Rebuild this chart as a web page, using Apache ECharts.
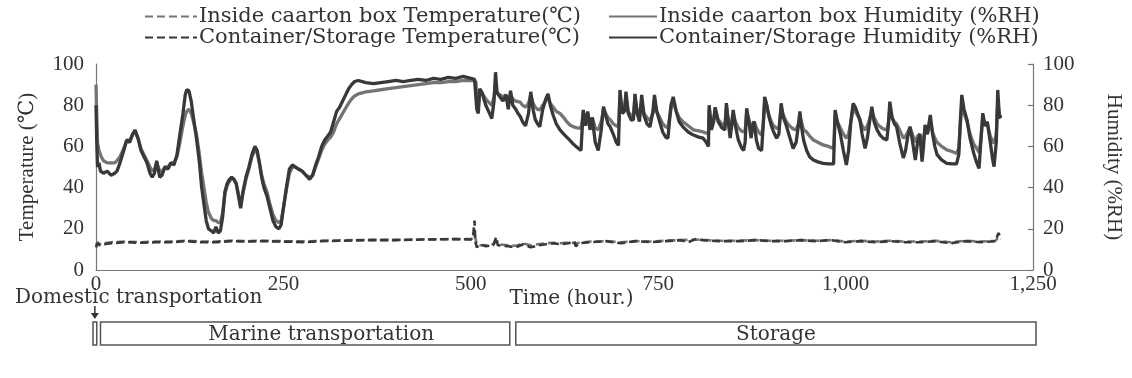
<!DOCTYPE html>
<html>
<head>
<meta charset="utf-8">
<script src="https://cdn.jsdelivr.net/npm/echarts@6/dist/echarts.min.js"></script>
<style>html,body{margin:0;padding:0;background:#fff}#c{width:1132px;height:378px}</style>
</head>
<body>
<div id="c"></div>
<script>
// ---- data ----
const seriesNames = [
  'Inside caarton box Temperature(\u2103)',
  'Container/Storage Temperature(\u2103)',
  'Inside caarton box Humidity (%RH)',
  'Container/Storage Humidity (%RH)'
];
const xTicks = [0, 250, 500, 750, 1000, 1250];
const yTicks = [0, 20, 40, 60, 80, 100];

const insideTemp = [[0,12],[2,13.5],[5,12.5],[10,13],[20,13.5],[40,13.8],[60,13.5],[80,13.8],[100,13.8],[120,14.2],[140,13.8],[160,13.8],[180,14.2],[200,14],[220,14.2],[250,14],[280,13.8],[300,14.2],[330,14.4],[360,14.6],[400,14.6],[440,14.9],[480,15],[500,15],[503,15.5],[505,17],[507,14],[510,12],[520,12],[530,12.5],[534,14],[537,12.5],[550,12],[560,11.8],[570,12.8],[580,12],[590,12.5],[600,13],[610,13.2],[620,13],[630,13.4],[640,13],[660,13.8],[680,14],[700,13.5],[720,14],[740,13.8],[760,14.2],[780,14.5],[800,14.8],[810,14.6],[830,14.2],[850,14.2],[880,14.5],[900,14.2],[920,14.2],[940,14.5],[960,14.2],[980,14.5],[1000,13.8],[1020,14.2],[1040,13.8],[1060,14.2],[1080,13.8],[1100,13.8],[1120,14.2],[1140,13.5],[1160,14.2],[1180,13.8],[1200,14.2],[1204,16],[1207,15]];

const containerTemp = [[0,11],[2,13],[5,12],[10,12.5],[20,13],[40,13.5],[60,13.2],[80,13.5],[100,13.5],[120,14],[140,13.5],[160,13.5],[180,14],[200,13.8],[220,14],[250,13.8],[280,13.5],[300,14],[330,14.2],[360,14.5],[400,14.5],[440,14.8],[480,15],[500,14.8],[503,16],[505,24],[506,14],[508,11],[512,12.5],[520,11.5],[530,12],[534,16],[536,12],[550,11.5],[560,11],[570,12.5],[580,11],[590,12],[600,12.5],[610,13],[620,12.5],[630,13],[638,14],[640,11.5],[645,13],[660,13.5],[680,14],[700,13],[720,14],[740,13.5],[760,14],[780,14.5],[790,13.5],[800,15],[810,14.5],[830,14],[850,14],[860,14],[880,14.5],[900,14],[920,14],[940,14.5],[960,14],[980,14.5],[1000,13.5],[1020,14],[1040,13.5],[1060,14],[1080,13.5],[1100,13.5],[1120,14],[1140,13],[1160,14],[1180,13.5],[1200,14],[1204,18],[1207,15]];

const insideHum = [[0,90],[1,75],[2,62],[4,58],[7,55],[10,53],[15,52],[20,52],[25,52],[28,53],[32,55],[37,59],[41,63],[45,63],[49,66],[52,67],[56,64],[60,59],[64,56],[68,53],[72,50],[75,48],[78,49],[81,52],[83,50],[85,48],[88,48],[92,50],[96,50],[100,52],[104,52],[108,55],[112,62],[116,70],[119,75],[121,77],[124,78],[127,76],[130,72],[134,66],[138,56],[141,47],[144,40],[147,33],[150,28],[154,25],[157,24],[160,24],[163,23],[166,23],[169,28],[172,37],[175,41],[178,43],[181,44.5],[184,44],[187,42],[190,37],[193,32],[196,37],[200,44],[204,49],[208,55],[212,58],[215,57],[218,52],[221,46],[224,42],[228,38],[232,32],[236,27],[240,24],[244,23],[247,24],[250,30],[254,39],[258,47],[262,50],[266,50],[270,49],[275,48],[280,46],[285,45],[289,46],[293,50],[297,54],[301,58],[305,61],[309,63],[313,64.5],[317,67],[321,71],[325,73.5],[329,76],[333,78.5],[337,81],[341,83],[345,84.5],[350,85.5],[360,86.5],[370,87],[380,87.5],[390,88],[400,88.5],[410,89],[420,89.5],[430,90],[440,90.5],[450,91],[460,91],[470,91.5],[480,91.5],[490,92],[500,92],[505,92],
[507,91],[508,82],[510,80],[512,87],[515,86],[520,83],[525,81],[528,80],[531,84],[533,90],[535,86],[539,85],[543,84],[547,85],[550,82],[553,85],[556,83],[560,82],[563,81.7],[566,81.5],[569,80],[573,79],[577,81],[580,85],[583,81],[586,79],[589,78],[592,77.7],[596,80],[600,82],[603,84],[606,81],[610,79],[614,77],[619,76],[624,74],[628,72],[632,70.4],[637,69.5],[642,69],[647,68.8],[649,68.5],[650,76],[653,72],[656,76],[659,71],[662,74],[666,69],[670,68],[672,68],[674,72],[677,78],[680,76],[683,74],[686,73],[690,71],[694,70],[697,69.5],[699,84],[702,77],[705,78],[707,84],[710,77],[714,75],[717,75],[719,83],[722,77],[725,75],[728,82],[731,76],[735,74],[739,72.5],[743,76],[745,82],[748,77],[752,74],[756,71],[760,69.5],[763,69],[767,78],[770,82],[774,77],[778,74],[783,72],[790,70],[797,68],[804,67.5],[810,67],[814,66.5],[817,66],[818,78],[821,71],[824,73],[826,78],[830,73],[835,71],[839,70],[841,79],[844,72],[846,69],[848,72],[850,76],[853,72],[857,69],[861,67.5],[864,67],[866,68],[868,76],[871,73],[874,69],[876,71],[878,72],[881,69],[884,67],[888,65.5],[890,70],[892,80],[895,78],[898,75],[901,72],[904,70],[908,68.8],[911,69],[914,78],[917,75],[921,72],[925,70],[930,68.5],[934,68],[937,71],[939,75],[941,72],[944,68],[948,67],[952,65],[957,63.1],[963,62],[970,60.7],[977,60],[984,59],[985,65],[986,75],[989,72],[993,69],[997,66],[1001,64],[1004,66],[1007,72],[1010,78],[1013,77],[1016,75],[1019,73],[1022,70],[1026,68],[1029,70],[1032,73],[1035,77],[1038,74],[1042,71],[1046,69.6],[1050,68.5],[1055,68],[1057,71],[1059,78],[1062,74],[1065,72],[1068,71],[1072,68],[1077,64],[1080,65],[1083,67],[1086,69],[1089,66],[1093,62],[1096,65],[1099,66],[1102,61],[1104,64],[1106,68],[1109,66],[1113,72],[1116,67],[1119,64],[1122,62],[1128,60],[1135,58.3],[1142,57.5],[1148,56.6],[1151,59],[1153,70],[1155,80],[1158,76],[1162,72],[1166,66],[1171,61],[1175,59],[1178,57],[1180,62],[1183,74],[1186,70],[1189,71],[1193,65],[1196,62.5],[1198,61.5],[1201,66],[1203,82],[1205,76],[1207,74]];

const containerHum = [[0,80],[1,62],[2,50],[4,52],[6,48],[10,47],[15,48],[20,46],[25,47],[28,48],[32,52],[37,58],[41,63],[45,62],[49,66],[52,68],[56,64],[60,58],[64,55],[68,52],[72,47],[75,45],[78,47],[81,53],[83,49],[85,45],[88,46],[92,50],[96,49],[100,52],[104,51],[108,56],[112,66],[116,76],[119,85],[121,87.5],[124,87],[127,82],[130,74],[134,64],[138,52],[141,40],[144,32],[147,24],[150,20],[154,19],[157,18],[160,21],[163,18],[166,19],[169,26],[172,38],[175,42],[178,44],[181,45],[184,44],[187,42],[190,36],[193,30],[196,38],[200,45],[204,50],[208,56],[212,60],[215,58],[218,52],[221,45],[224,40],[228,36],[232,30],[236,24],[240,21],[244,20],[247,22],[250,30],[254,40],[258,49],[262,51],[266,50],[270,49],[275,48],[280,46],[285,44],[289,46],[293,51],[297,55],[301,60],[305,63],[309,65],[313,67],[317,72],[321,77],[325,79],[329,82],[333,85],[337,88],[341,90],[345,91.5],[350,92],[360,91],[370,90.5],[380,91],[390,91.5],[400,92],[410,91.5],[420,92],[430,92.5],[440,92],[450,93],[460,92.5],[470,93.5],[480,93],[490,94],[500,93],[505,92.5],
[507,92],[508,78],[510,76],[512,88],[515,86],[520,80],[525,76],[528,73.5],[531,82],[533,96],[535,86],[539,84],[543,82],[547,85],[550,78],[553,87],[556,80],[560,78],[563,76],[566,74.5],[569,72],[573,70],[577,76],[580,86.5],[583,78],[586,73],[589,71],[592,69.5],[596,78],[600,83],[603,85.5],[606,80],[610,75],[614,71],[619,68],[624,66],[628,64.5],[632,63],[637,61],[642,59.5],[647,58],[649,57.5],[650,77.7],[653,70],[656,77],[659,68],[662,74],[666,62],[670,58],[672,57.5],[674,68],[677,79.3],[680,75],[683,71],[686,69.5],[690,66],[694,62],[697,60.5],[699,87.4],[702,76],[705,77],[707,86.6],[710,76],[714,72.8],[717,73],[719,85.5],[722,76],[725,72],[728,85],[731,75],[735,71],[739,69.5],[743,77],[745,85],[748,77],[752,72],[756,67],[760,64.5],[763,64],[767,80],[770,84],[774,77],[778,72],[783,69.5],[790,67],[797,65.5],[804,64.5],[810,64],[814,62],[817,60],[818,80],[821,68],[824,72],[826,79],[830,72],[835,69],[839,68],[841,81],[844,70],[846,64],[848,70],[850,77.7],[853,70],[857,63],[861,59.5],[864,58],[866,62],[868,78.5],[871,72],[874,64],[876,70],[878,72],[881,63],[884,59],[888,58],[890,70],[892,84],[895,80],[898,74],[901,70],[904,67],[908,64],[911,66],[914,80.9],[917,74],[921,70],[925,65],[930,59],[934,62],[937,70],[939,77],[941,70],[944,63],[948,58],[952,55],[957,53.4],[963,52.5],[970,51.8],[977,51.5],[984,51.5],[985,65],[986,77.7],[989,72],[993,66],[997,58],[1001,51],[1004,58],[1007,72],[1010,80.9],[1013,79],[1016,76],[1019,73],[1022,66],[1026,59],[1029,64],[1032,72],[1035,79.3],[1038,72],[1042,68],[1046,65.5],[1050,64],[1055,63.1],[1057,70],[1059,81.7],[1062,74],[1065,71],[1068,69.6],[1072,62],[1077,54.4],[1080,58],[1083,65],[1086,69.6],[1089,63],[1093,53.4],[1096,62],[1099,66],[1102,52.6],[1104,60],[1106,70.4],[1109,66],[1113,75.3],[1116,66],[1119,60],[1122,56],[1128,53.5],[1135,51.8],[1142,51.5],[1148,51.5],[1151,56],[1153,72],[1155,85],[1158,78],[1162,72.8],[1166,64],[1171,56.6],[1175,52],[1178,49.3],[1180,60],[1183,76.1],[1186,70],[1189,72],[1193,62],[1196,54],[1198,50.2],[1201,62],[1203,87.4],[1205,75],[1207,73.6]];

// stages: [start hour, end hour, label]
const stages = [[-4, 1, ''], [6, 552, 'Marine transportation'], [560, 1254, 'Storage']];
const domesticLabel = 'Domestic transportation';

// ---- chart ----
const FONT = '"Liberation Serif", "DejaVu Serif", serif';
const WFONT = '"DejaVu Serif", "Liberation Serif", serif';
const TXT = '#333';
const GRAY = '#747474';
const DARK = '#383838';
const chart = echarts.init(document.getElementById('c'), null, {renderer: 'canvas'});

function lineSeries(name, data, color, yIdx, dashed, z) {
  return {
    name, type: 'line', data, xAxisIndex: 0, yAxisIndex: yIdx,
    symbol: 'none', animation: false, z: z,
    lineStyle: {color, width: dashed ? 2.6 : 3.3, type: dashed ? [8, 4] : 'solid'},
    itemStyle: {color}
  };
}

const legendBase = {
  orient: 'vertical', top: 1, itemGap: 0,
  itemWidth: 48, itemHeight: 14,
  itemStyle: {opacity: 0, borderWidth: 0},
  textStyle: {fontFamily: WFONT, fontSize: 21, color: TXT, padding: [0, 0, 0, -3]}
};

const option = {
  animation: false,
  textStyle: {fontFamily: FONT, color: TXT},
  legend: [
    Object.assign({data: [seriesNames[0], seriesNames[1]], left: 139}, legendBase, {itemWidth: 52}),
    Object.assign({data: [seriesNames[2], seriesNames[3]], left: 603}, legendBase)
  ],
  grid: [
    {left: 96, right: 99, top: 64, bottom: 108},
    {left: 96, right: 99, top: 322, height: 23}
  ],
  xAxis: [
    {
      type: 'value', gridIndex: 0, min: 0, max: 1250, interval: 250,
      name: 'Time (hour.)', nameLocation: 'middle', nameGap: 19, nameMoveOverlap: false,
      nameTextStyle: {fontFamily: WFONT, fontSize: 20, color: TXT, padding: [0, 0, 0, 14]},
      axisLine: {lineStyle: {color: '#777', width: 1.2}},
      axisTick: {show: false},
      splitLine: {show: false},
      axisLabel: {fontFamily: FONT, fontSize: 21, color: TXT, margin: 4,
        formatter: v => xTicks.indexOf(v) >= 0 ? v.toLocaleString('en-US') : ''}
    },
    {type: 'value', gridIndex: 1, min: 0, max: 1250, show: false}
  ],
  yAxis: [
    {
      type: 'value', gridIndex: 0, min: 0, max: 100, interval: 20, position: 'left',
      name: 'Temperature (\u2103)', nameLocation: 'middle', nameGap: 58, nameRotate: 90,
      nameMoveOverlap: false,
      nameTextStyle: {fontFamily: FONT, fontSize: 21, color: TXT},
      axisLine: {show: true, lineStyle: {color: '#777', width: 1.2}},
      axisTick: {show: false},
      splitLine: {show: false},
      axisLabel: {fontFamily: FONT, fontSize: 21, color: TXT, margin: 12,
        formatter: v => yTicks.indexOf(v) >= 0 ? String(v) : ''}
    },
    {
      type: 'value', gridIndex: 0, min: 0, max: 100, interval: 20, position: 'right',
      name: 'Humidity (%RH)', nameLocation: 'middle', nameGap: 70, nameRotate: -90,
      nameMoveOverlap: false,
      nameTextStyle: {fontFamily: FONT, fontSize: 21, color: TXT},
      axisLine: {show: true, lineStyle: {color: '#777', width: 1.2}},
      axisTick: {show: true, inside: true, length: 5, lineStyle: {color: '#777', width: 1.2}},
      splitLine: {show: false},
      axisLabel: {fontFamily: FONT, fontSize: 21, color: TXT, margin: 10,
        formatter: v => yTicks.indexOf(v) >= 0 ? String(v) : ''}
    },
    {type: 'value', gridIndex: 1, min: 0, max: 1, show: false}
  ],
  series: [
    lineSeries(seriesNames[0], insideTemp, GRAY, 0, true, 3),
    lineSeries(seriesNames[1], containerTemp, DARK, 0, true, 4),
    lineSeries(seriesNames[2], insideHum, GRAY, 1, false, 2),
    lineSeries(seriesNames[3], containerHum, DARK, 1, false, 5),
    {
      type: 'custom', xAxisIndex: 1, yAxisIndex: 2, clip: false, silent: true,
      data: stages,
      encode: {x: [0, 1], y: []},
      renderItem: function (params, api) {
        const p0 = api.coord([api.value(0), 1]);
        const p1 = api.coord([api.value(1), 0]);
        const label = stages[params.dataIndex][2];
        const children = [{
          type: 'rect',
          shape: {x: p0[0], y: p0[1], width: p1[0] - p0[0], height: p1[1] - p0[1]},
          style: {fill: '#fff', stroke: '#555', lineWidth: 1.5}
        }];
        if (label) {
          const shift = params.dataIndex === 1 ? 16 : 0;
          children.push({
            type: 'text',
            style: {text: label, x: (p0[0] + p1[0]) / 2 + shift, y: (p0[1] + p1[1]) / 2 + 1,
              align: 'center', verticalAlign: 'middle',
              font: '20px ' + WFONT, fill: TXT}
          });
        } else {
          const cx = (p0[0] + p1[0]) / 2;
          children.push({
            type: 'line', shape: {x1: cx, y1: p0[1] - 16, x2: cx, y2: p0[1] - 8},
            style: {stroke: '#333', lineWidth: 1.5}
          });
          children.push({
            type: 'polygon', shape: {points: [[cx - 4, p0[1] - 9], [cx + 4, p0[1] - 9], [cx, p0[1] - 3]]},
            style: {fill: '#333'}
          });
          children.push({
            type: 'text',
            style: {text: domesticLabel, x: cx - 80, y: p0[1] - 24,
              align: 'left', verticalAlign: 'middle',
              font: '20px ' + WFONT, fill: TXT}
          });
        }
        return {type: 'group', children};
      }
    }
  ]
};
chart.setOption(option);
</script>
</body>
</html>
